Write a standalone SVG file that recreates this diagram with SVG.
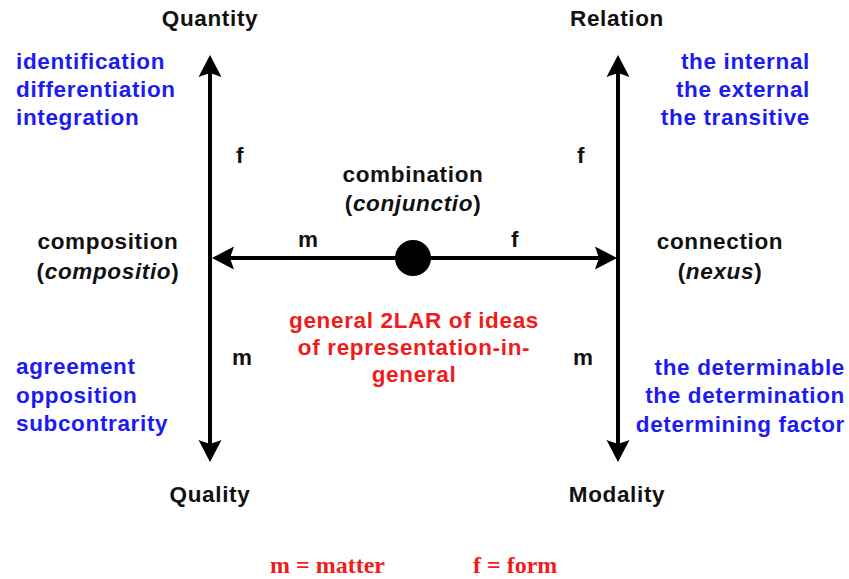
<svg xmlns="http://www.w3.org/2000/svg" width="849" height="579" viewBox="0 0 849 579">
<style>
  text { font-family: "Liberation Sans", Arial, sans-serif; font-weight: bold; font-size: 22.5px; letter-spacing: 0.65px; }
  .k { fill: #111; }
  .b { fill: #1c1cf0; }
  .r { fill: #f01c1c; }
  .mid { text-anchor: middle; }
  .end { text-anchor: end; }
  .lg { font-family: "Liberation Serif", "Times New Roman", serif; font-size: 24px; letter-spacing: 0; fill: #f01c1c; }
  .ax { stroke: #000; stroke-width: 4; fill: none; }
</style>
<defs>
  <marker id="ah" markerUnits="userSpaceOnUse" orient="auto-start-reverse" markerWidth="30" markerHeight="30" refX="0" refY="0" viewBox="-10 -15 30 30" overflow="visible">
    <path d="M15,0 L-7,-11.5 L-3,0 L-7,11.5 Z" fill="#000"/>
  </marker>
</defs>
<g id="connectors">
  <line class="ax" x1="210" y1="70" x2="210" y2="447" marker-start="url(#ah)" marker-end="url(#ah)"/>
  <line class="ax" x1="618" y1="70" x2="618" y2="447" marker-start="url(#ah)" marker-end="url(#ah)"/>
  <line class="ax" x1="227" y1="258" x2="602" y2="258" marker-start="url(#ah)" marker-end="url(#ah)"/>
</g>
<g id="center">
  <circle cx="413" cy="258" r="18" fill="#000"/>
</g>
<g id="quantity">
  <text class="k mid" x="210" y="26">Quantity</text>
  <text class="b" x="16" y="69">identification</text>
  <text class="b" x="16" y="97">differentiation</text>
  <text class="b" x="16" y="125">integration</text>
</g>
<g id="relation">
  <text class="k mid" x="617" y="26">Relation</text>
  <text class="b end" x="810" y="69">the internal</text>
  <text class="b end" x="810" y="97">the external</text>
  <text class="b end" x="810" y="125">the transitive</text>
</g>
<g id="quality">
  <text class="k mid" x="210" y="502">Quality</text>
  <text class="b" x="16" y="374">agreement</text>
  <text class="b" x="16" y="403">opposition</text>
  <text class="b" x="16" y="431">subcontrarity</text>
</g>
<g id="modality">
  <text class="k mid" x="617" y="502">Modality</text>
  <text class="b end" x="845" y="375">the determinable</text>
  <text class="b end" x="845" y="403">the determination</text>
  <text class="b end" x="845" y="432">determining factor</text>
</g>
<g id="composition">
  <text class="k mid" x="108" y="249">composition</text>
  <text class="k mid" x="108" y="279">(<tspan font-style="italic">compositio</tspan>)</text>
</g>
<g id="connection">
  <text class="k mid" x="720" y="249">connection</text>
  <text class="k mid" x="720" y="279">(<tspan font-style="italic">nexus</tspan>)</text>
</g>
<g id="combination">
  <text class="k mid" x="413" y="182">combination</text>
  <text class="k mid" x="413" y="211">(<tspan font-style="italic">conjunctio</tspan>)</text>
</g>
<g id="general">
  <text class="r mid" x="414" y="328">general 2LAR of ideas</text>
  <text class="r mid" x="414" y="355">of representation-in-</text>
  <text class="r mid" x="414" y="382">general</text>
</g>
<g id="labels">
  <text class="k" x="236" y="163">f</text>
  <text class="k" x="577" y="163">f</text>
  <text class="k" x="298" y="247">m</text>
  <text class="k" x="511" y="247">f</text>
  <text class="k" x="232" y="365">m</text>
  <text class="k" x="573" y="365">m</text>
</g>
<g id="legend">
  <text class="lg" x="270" y="573">m = matter</text>
  <text class="lg" x="473" y="573">f = form</text>
</g>
</svg>
